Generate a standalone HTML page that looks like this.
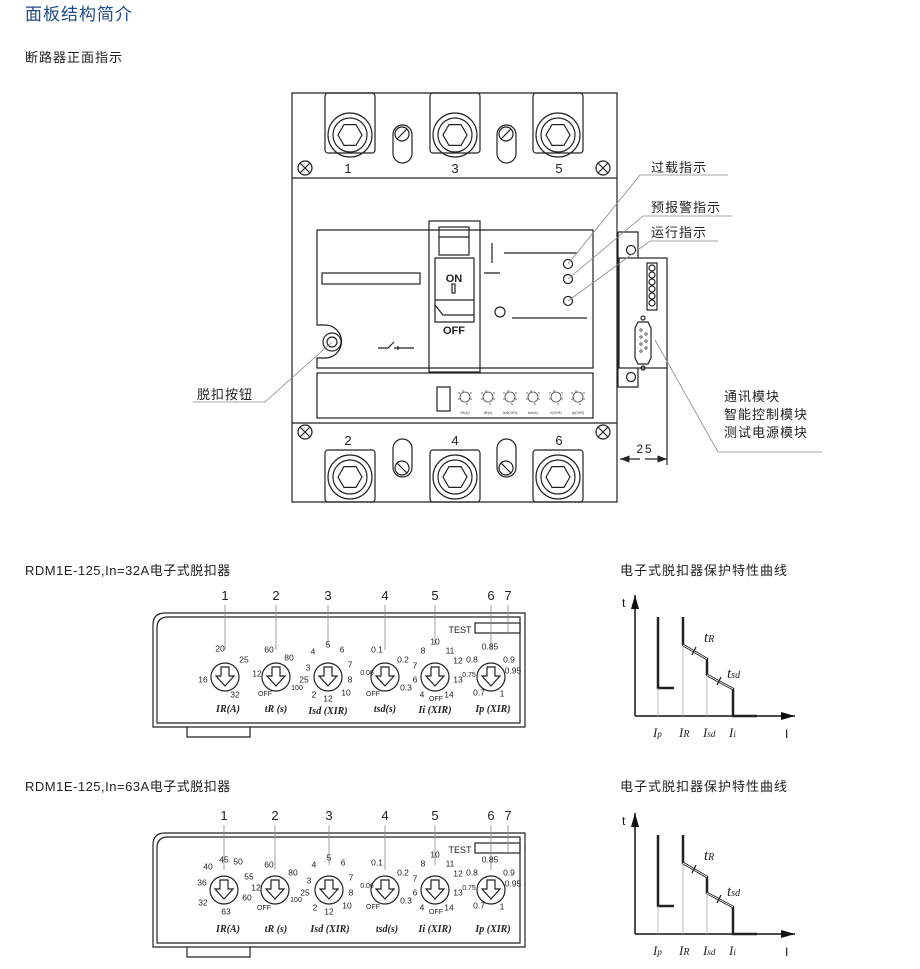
<!DOCTYPE html><html><head><meta charset="utf-8"><style>
body{margin:0;background:#fff;}
svg{display:block;font-family:"Liberation Sans","Noto Sans CJK SC",sans-serif;}
.s{fill:none;stroke:#222;stroke-width:1.2}
.t{fill:none;stroke:#888;stroke-width:0.8}
.cn{font-size:13px;fill:#222;letter-spacing:1px}
.tk{font-size:8.5px;fill:#222;text-anchor:middle;dominant-baseline:middle}
.lb{font-family:"Liberation Serif",serif;font-style:italic;font-weight:bold;font-size:10px;fill:#222;text-anchor:middle}
.nm{font-size:13px;fill:#222;text-anchor:middle}
</style></head><body>
<svg width="920" height="969" viewBox="0 0 920 969" xmlns="http://www.w3.org/2000/svg">
<defs>
<g id="term"><rect x="-25" y="0" width="50" height="60" rx="3" class="s"/><circle cx="0" cy="42" r="22" class="s"/><circle cx="0" cy="42" r="17" class="s"/><polygon points="12,42 6,52.4 -6,52.4 -12,42 -6,31.6 6,31.6" class="s"/></g>
<g id="termb"><rect x="-25" y="450" width="50" height="52" rx="3" class="s"/><circle cx="0" cy="477" r="22" class="s"/><circle cx="0" cy="477" r="17" class="s"/><polygon points="12,477 6,487.4 -6,487.4 -12,477 -6,466.6 6,466.6" class="s"/></g>
<g id="scr"><circle r="7" class="s"/><path d="M-5,-5L5,5M-5,5L5,-5" class="s"/></g>
<g id="dial"><circle r="14" class="s"/><path d="M-4,-10h8v9h5l-9,10l-9,-10h5z" class="s"/></g>
<g id="mini"><circle r="5" fill="none" stroke="#444" stroke-width="0.8"/><path d="M-7,-4h2M5,-4h2M-7,2h2M5,2h2M-2,-7v2M2,6v2" stroke="#444" stroke-width="0.8"/></g>
<marker id="ar" markerWidth="8" markerHeight="6" refX="8" refY="3" orient="auto"><path d="M0,0L8,3L0,6z" fill="#222"/></marker>
<marker id="ar2" markerWidth="14" markerHeight="8" refX="14" refY="4" orient="auto" markerUnits="userSpaceOnUse"><path d="M0,0L14,4L0,8z" fill="#111"/></marker>
</defs>
<text x="25" y="20" font-size="17" fill="#1f4a8a" style="letter-spacing:1px">面板结构简介</text>
<text x="25" y="62" class="cn">断路器正面指示</text>

<!-- breaker -->
<path d="M292,93H617V502H292Z" class="s"/>
<path d="M292,178H617M292,423H617" class="s"/>
<use href="#term" x="350" y="93"/><use href="#term" x="455" y="93"/><use href="#term" x="558" y="93"/>
<use href="#termb" x="350"/><use href="#termb" x="455"/><use href="#termb" x="558"/>
<g class="s"><rect x="393" y="125" width="19" height="38" rx="9.5"/><circle cx="402" cy="134" r="7"/><path d="M397,139L407,129"/>
<rect x="497" y="125" width="19" height="38" rx="9.5"/><circle cx="506" cy="134" r="7"/><path d="M501,139L511,129"/>
<rect x="393" y="439" width="19" height="38" rx="9.5"/><circle cx="402" cy="468" r="7"/><path d="M397,463L407,473"/>
<rect x="497" y="439" width="19" height="38" rx="9.5"/><circle cx="506" cy="468" r="7"/><path d="M501,463L511,473"/></g>
<use href="#scr" x="305" y="168"/><use href="#scr" x="603" y="168"/><use href="#scr" x="305" y="432"/><use href="#scr" x="603" y="432"/>
<text x="348" y="173" class="nm">1</text><text x="455" y="173" class="nm">3</text><text x="559" y="173" class="nm">5</text>
<text x="348" y="445" class="nm">2</text><text x="455" y="445" class="nm">4</text><text x="559" y="445" class="nm">6</text>
<path d="M317,230H593V368H317V358H325A16,16 0 0 0 325,325H317Z" class="s"/>
<circle cx="332" cy="342" r="9" class="s"/><circle cx="332" cy="342" r="5" class="s"/>
<rect x="322" y="273" width="98" height="11" class="s"/>
<path d="M378,348h10l6,-6M394,348h20M398,346v4" class="s" stroke-width="0.9"/>
<rect x="429" y="221" width="51" height="151" class="s"/>
<rect x="439" y="227" width="30" height="28" class="s"/><path d="M439,237H469" class="s"/>
<path d="M435,258H474V322H435ZM435,300H474M435,305l8,10H474" class="s"/>
<rect x="452" y="284" width="3" height="9" class="s"/>
<text x="454" y="282" font-size="11" font-weight="bold" text-anchor="middle" fill="#222">ON</text>
<text x="454" y="334" font-size="11" font-weight="bold" text-anchor="middle" fill="#222">OFF</text>
<path d="M492,243V263M504,253H577M484,273H500M512,318H587" class="s"/>
<circle cx="500" cy="312" r="5" class="s"/>
<circle cx="568" cy="264" r="4.5" class="s"/><circle cx="568" cy="279" r="4.5" class="s"/><circle cx="568" cy="301" r="4.5" class="s"/>
<rect x="317" y="373" width="276" height="45" class="s"/>
<rect x="437" y="387" width="13" height="24" class="s"/>
<use href="#mini" x="465" y="397"/><use href="#mini" x="488" y="397"/><use href="#mini" x="510" y="397"/><use href="#mini" x="533" y="397"/><use href="#mini" x="556" y="397"/><use href="#mini" x="578" y="397"/>
<g font-size="4" fill="#444" text-anchor="middle"><text x="465" y="414">IR(A)</text><text x="488" y="414">tR(s)</text><text x="510" y="414">Isd(XIR)</text><text x="533" y="414">tsd(s)</text><text x="556" y="414">Ii(XIR)</text><text x="578" y="414">Ip(XIR)</text></g>
<!-- module -->
<path d="M618,232H638V258M618,232V387H638V368" class="s"/>
<rect x="619" y="258" width="48" height="110" class="s"/>
<circle cx="631" cy="250" r="4.5" class="s"/><circle cx="631" cy="377" r="4.5" class="s"/>
<rect x="647" y="263" width="10" height="47" class="s"/>
<g class="s" stroke-width="0.9"><circle cx="652" cy="268" r="3"/><circle cx="652" cy="275" r="3"/><circle cx="652" cy="282" r="3"/><circle cx="652" cy="289" r="3"/><circle cx="652" cy="296" r="3"/><circle cx="652" cy="303" r="3"/></g>
<path d="M638,322h10l3,6v30l-3,6h-10l-3,-6v-30z" class="s"/>
<circle cx="643" cy="318" r="2" class="s"/><circle cx="643" cy="368" r="2" class="s"/>
<g fill="none" stroke="#222" stroke-width="0.7"><circle cx="641" cy="330" r="1.2"/><circle cx="641" cy="337" r="1.2"/><circle cx="641" cy="344" r="1.2"/><circle cx="641" cy="351" r="1.2"/><circle cx="646" cy="334" r="1.2"/><circle cx="646" cy="341" r="1.2"/><circle cx="646" cy="348" r="1.2"/></g>
<path d="M667,368V465" class="s" stroke-width="0.8"/>
<path d="M640,459H620" class="s" stroke-width="0.8" marker-end="url(#ar)"/><path d="M645,459H667" class="s" stroke-width="0.8" marker-end="url(#ar)"/>
<text x="645" y="453" font-size="12" text-anchor="middle" fill="#222" letter-spacing="2">25</text>
<!-- leaders -->
<path d="M568,264L640,175H728M568,279L643,216H732M568,301L650,241H718M332,342L265,402H193M655,340L718,452H822" class="t"/>
<text x="651" y="172" class="cn">过载指示</text>
<text x="651" y="212" class="cn">预报警指示</text>
<text x="651" y="237" class="cn">运行指示</text>
<text x="197" y="399" class="cn">脱扣按钮</text>
<text x="724" y="401" class="cn">通讯模块</text>
<text x="724" y="419" class="cn">智能控制模块</text>
<text x="724" y="437" class="cn">测试电源模块</text>

<!-- panel 1 -->
<text x="25" y="575" class="cn" style="letter-spacing:0.5px">RDM1E-125,In=32A电子式脱扣器</text>
<text x="620" y="575" class="cn">电子式脱扣器保护特性曲线</text>
<g id="p1">
<path d="M153,727V625Q153,613 165,613H525V727Z" class="s"/>
<path d="M157,723V628Q157,617 168,617H520V723Z" class="s" stroke-width="0.8"/>
<path d="M187,727V737H250V727" class="s" stroke-width="0.8"/>
<rect x="475" y="623" width="45" height="10" class="s" stroke-width="0.8"/>
<text x="460" y="633" font-size="9" fill="#222" text-anchor="middle">TEST</text>
</g>
<g class="nm"><text x="225" y="600">1</text><text x="276" y="600">2</text><text x="328" y="600">3</text><text x="385" y="600">4</text><text x="435" y="600">5</text><text x="491" y="600">6</text><text x="508" y="600">7</text></g>
<path d="M225,605V650M276,605V650M328,605V645M385,605V650M435,605V645M491,605V650M508,605V633" class="t" stroke="#444"/>
<use href="#dial" x="225" y="677"/><use href="#dial" x="276" y="677"/><use href="#dial" x="328" y="677"/><use href="#dial" x="385" y="677"/><use href="#dial" x="435" y="677"/><use href="#dial" x="491" y="677"/>
<g class="tk">
<g transform="translate(225,677)"><text x="-5" y="-28">20</text><text x="19" y="-17">25</text><text x="-22" y="3">16</text><text x="10" y="18">32</text></g>
<g transform="translate(276,677)"><text x="-7" y="-27">60</text><text x="13" y="-19">80</text><text x="-19" y="-3">12</text><text x="-11" y="17" font-size="7">OFF</text><text x="21" y="11" font-size="7">100</text></g>
<g transform="translate(328,677)"><text x="0" y="-32">5</text><text x="14" y="-27">6</text><text x="-15" y="-25">4</text><text x="22" y="-12">7</text><text x="-20" y="-9">3</text><text x="22" y="3">8</text><text x="-24" y="3">25</text><text x="18" y="16">10</text><text x="-14" y="18">2</text><text x="0" y="22">12</text></g>
<g transform="translate(385,677)"><text x="-8" y="-27">0.1</text><text x="18" y="-17">0.2</text><text x="-18" y="-4" font-size="7">0.06</text><text x="-12" y="17" font-size="7">OFF</text><text x="21" y="11">0.3</text></g>
<g transform="translate(435,677)"><text x="0" y="-35">10</text><text x="-12" y="-26">8</text><text x="15" y="-26">11</text><text x="-20" y="-11">7</text><text x="23" y="-16">12</text><text x="-20" y="3">6</text><text x="23" y="3">13</text><text x="-13" y="18">4</text><text x="1" y="22" font-size="7">OFF</text><text x="14" y="18">14</text></g>
<g transform="translate(491,677)"><text x="-1" y="-30">0.85</text><text x="-19" y="-17">0.8</text><text x="18" y="-17">0.9</text><text x="-22" y="-2" font-size="7">0.75</text><text x="22" y="-6">0.95</text><text x="-12" y="16">0.7</text><text x="11" y="17">1</text></g>
</g>
<g class="lb"><text x="228" y="712">IR(A)</text><text x="276" y="712">tR (s)</text><text x="328" y="714">Isd (XIR)</text><text x="385" y="712">tsd(s)</text><text x="435" y="713">Ii (XIR)</text><text x="493" y="712">Ip (XIR)</text></g>

<!-- chart 1 -->
<g id="c1">
<path d="M635,716V595" stroke="#111" stroke-width="1.5" marker-end="url(#ar2)"/>
<path d="M635,716H795" stroke="#111" stroke-width="1.5" marker-end="url(#ar2)"/>
<text x="622" y="607" font-size="12" fill="#111">t</text><text x="785" y="738" font-size="12" fill="#111">I</text>
<path d="M658,617V688H674" fill="none" stroke="#222" stroke-width="2.5"/>
<path d="M683,617V645L707,659V675L733,689V716H757" fill="none" stroke="#222" stroke-width="2.5"/>
<path d="M683,645L707,659M707,675L733,689" fill="none" stroke="#fff" stroke-width="0.8"/>
<path d="M692,655l4,-8M717,685l4,-8" stroke="#222" stroke-width="1.3"/>
<path d="M658,688V716M683,645V716M707,675V716" stroke="#aaa" stroke-width="0.8"/>
<g font-family="Liberation Serif,serif" font-style="italic" fill="#222"><text x="704" y="642" font-size="15">t<tspan font-size="10">R</tspan></text><text x="727" y="678" font-size="15">t<tspan font-size="10">sd</tspan></text>
<text x="653" y="737" font-size="13">I<tspan font-size="9">p</tspan></text><text x="679" y="737" font-size="13">I<tspan font-size="10">R</tspan></text><text x="703" y="737" font-size="13">I<tspan font-size="9">sd</tspan></text><text x="729" y="737" font-size="13">I<tspan font-size="9">i</tspan></text></g>
</g>

<!-- panel 2 -->
<text x="25" y="791" class="cn" style="letter-spacing:0.5px">RDM1E-125,In=63A电子式脱扣器</text>
<text x="620" y="791" class="cn">电子式脱扣器保护特性曲线</text>
<use href="#p1" y="220"/>
<use href="#c1" y="218"/>
<g class="nm"><text x="224" y="820">1</text><text x="275" y="820">2</text><text x="329" y="820">3</text><text x="385" y="820">4</text><text x="435" y="820">5</text><text x="491" y="820">6</text><text x="508" y="820">7</text></g>
<path d="M224,825V870M275,825V870M329,825V865M385,825V870M435,825V865M491,825V870M508,825V853" class="t" stroke="#444"/>
<use href="#dial" x="224" y="890"/><use href="#dial" x="275" y="890"/><use href="#dial" x="329" y="890"/><use href="#dial" x="385" y="890"/><use href="#dial" x="435" y="890"/><use href="#dial" x="491" y="890"/>
<g class="tk">
<g transform="translate(224,890)"><text x="0" y="-30">45</text><text x="-16" y="-23">40</text><text x="14" y="-28">50</text><text x="-22" y="-7">36</text><text x="25" y="-13">55</text><text x="-21" y="13">32</text><text x="23" y="8">60</text><text x="2" y="22">63</text></g>
<g transform="translate(275,890)"><text x="-6" y="-25">60</text><text x="18" y="-17">80</text><text x="-19" y="-2">12</text><text x="-11" y="18" font-size="7">OFF</text><text x="21" y="10" font-size="7">100</text></g>
<g transform="translate(329,890)"><text x="0" y="-32">5</text><text x="14" y="-27">6</text><text x="-15" y="-25">4</text><text x="22" y="-12">7</text><text x="-20" y="-9">3</text><text x="22" y="3">8</text><text x="-24" y="3">25</text><text x="18" y="16">10</text><text x="-14" y="18">2</text><text x="0" y="22">12</text></g>
<g transform="translate(385,890)"><text x="-8" y="-27">0.1</text><text x="18" y="-17">0.2</text><text x="-18" y="-4" font-size="7">0.06</text><text x="-12" y="17" font-size="7">OFF</text><text x="21" y="11">0.3</text></g>
<g transform="translate(435,890)"><text x="0" y="-35">10</text><text x="-12" y="-26">8</text><text x="15" y="-26">11</text><text x="-20" y="-11">7</text><text x="23" y="-16">12</text><text x="-20" y="3">6</text><text x="23" y="3">13</text><text x="-13" y="18">4</text><text x="1" y="22" font-size="7">OFF</text><text x="14" y="18">14</text></g>
<g transform="translate(491,890)"><text x="-1" y="-30">0.85</text><text x="-19" y="-17">0.8</text><text x="18" y="-17">0.9</text><text x="-22" y="-2" font-size="7">0.75</text><text x="22" y="-6">0.95</text><text x="-12" y="16">0.7</text><text x="11" y="17">1</text></g>
</g>
<g class="lb"><text x="228" y="932">IR(A)</text><text x="276" y="932">tR (s)</text><text x="330" y="932">Isd (XIR)</text><text x="387" y="932">tsd(s)</text><text x="435" y="932">Ii (XIR)</text><text x="493" y="932">Ip (XIR)</text></g>
</svg>
</body></html>
